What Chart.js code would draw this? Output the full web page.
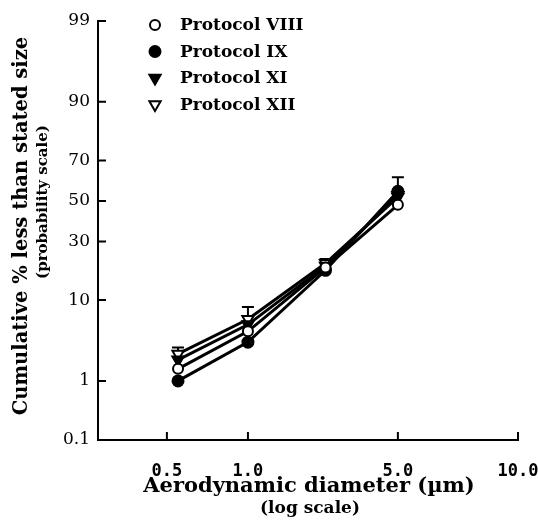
<!DOCTYPE html>
<html>
<head>
<meta charset="utf-8">
<script src="https://cdn.jsdelivr.net/npm/chart.js@4/dist/chart.umd.min.js"></script>
<style>
  html, body { margin: 0; padding: 0; background: #fff; }
  canvas { display: block; }
</style>
</head>
<body>
<canvas id="chart" width="538" height="528"></canvas>
<script>
'use strict';

// stage cut-off diameters (um)
const diameters = [0.55, 1.0, 2.3, 5.0];

// cumulative % less than stated size
const protocolVIII = [1.5, 4.6, 19.5, 48];
const protocolIX = [1.0, 3.4, 18.5, 55];
const protocolXI = [2.0, 5.5, 20, 53];
const protocolXII = [2.4, 6.3, 21, 52];

// top of the error bar at each stage
const errorTop = [2.9, 8.5, 22.7, 62];

const xTicks = [0.5, 1, 5, 10];
const xTickLabels = ['0.5', '1.0', '5.0', '10.0'];
const yTicks = [0.1, 1, 10, 30, 50, 70, 90, 99];

const xTitle = 'Aerodynamic diameter (\u00b5m)';
const xSubtitle = '(log scale)';
const yTitle = 'Cumulative % less than stated size';
const ySubtitle = '(probability scale)';

// the printed x axis is not a true log axis: tick spacing differs per decade,
// so each tick gets its own fraction of the axis length and log is used between
const xAxisFractions = [0.164, 0.357, 0.714, 1];

const black = '#000';

// inverse normal cdf (Acklam)
function probit(p) {
  const a = [-39.69683028665376, 220.9460984245205, -275.9285104469687, 138.3577518672690, -30.66479806614716, 2.506628277459239];
  const b = [-54.47609879822406, 161.5858368580409, -155.6989798598866, 66.80131188771972, -13.28068155288572];
  const c = [-0.007784894002430293, -0.3223964580411365, -2.400758277161838, -2.549732539343734, 4.374664141464968, 2.938163982698783];
  const d = [0.007784695709041462, 0.3224671290700398, 2.445134137142996, 3.754408661907416];
  const tail = q => (((((c[0] * q + c[1]) * q + c[2]) * q + c[3]) * q + c[4]) * q + c[5]) /
    ((((d[0] * q + d[1]) * q + d[2]) * q + d[3]) * q + 1);
  if (p < 0.02425) return tail(Math.sqrt(-2 * Math.log(p)));
  if (p > 1 - 0.02425) return -tail(Math.sqrt(-2 * Math.log(1 - p)));
  const q = p - 0.5, r = q * q;
  return (((((a[0] * r + a[1]) * r + a[2]) * r + a[3]) * r + a[4]) * r + a[5]) * q /
    (((((b[0] * r + b[1]) * r + b[2]) * r + b[3]) * r + b[4]) * r + 1);
}

function xFraction(v) {
  let i = 0;
  while (i < xTicks.length - 2 && v > xTicks[i + 1]) i++;
  const l0 = Math.log10(xTicks[i]), l1 = Math.log10(xTicks[i + 1]);
  return xAxisFractions[i] + (Math.log10(v) - l0) / (l1 - l0) * (xAxisFractions[i + 1] - xAxisFractions[i]);
}

function invert(fn, target, lo, hi) {
  for (let k = 0; k < 60; k++) {
    const mid = (lo + hi) / 2;
    if (fn(mid) < target) lo = mid; else hi = mid;
  }
  return (lo + hi) / 2;
}

class ProbitScale extends Chart.LinearScale {
  static id = 'probit';
  static defaults = {};
  _frac(v) {
    const lo = probit(this.min / 100), hi = probit(this.max / 100);
    return (probit(v / 100) - lo) / (hi - lo);
  }
  getPixelForValue(value) {
    if (value == null || !(value > 0)) return NaN;
    return this.getPixelForDecimal(this._frac(value));
  }
  getValueForPixel(pixel) {
    return invert(v => this._frac(v), this.getDecimalForPixel(pixel), 1e-4, 99.9999);
  }
}

class StagedLogScale extends Chart.LinearScale {
  static id = 'stagedLog';
  static defaults = {};
  getPixelForValue(value) {
    if (value == null || !(value > 0)) return NaN;
    return this.getPixelForDecimal(xFraction(value));
  }
  getValueForPixel(pixel) {
    return invert(xFraction, this.getDecimalForPixel(pixel), 0.05, 20);
  }
}

Chart.register(ProbitScale, StagedLogScale);

function series(label, values, pointStyle, fill, radius) {
  return {
    label,
    data: diameters.map((x, i) => ({ x, y: values[i] })),
    borderColor: black,
    borderWidth: 3,
    tension: 0,
    pointStyle,
    pointRotation: pointStyle === 'triangle' ? 180 : 0,
    pointRadius: radius,
    pointBackgroundColor: fill,
    pointBorderColor: black,
    pointBorderWidth: 2,
  };
}

const decorations = {
  id: 'decorations',
  beforeDatasetsDraw(chart) {
    const { ctx, scales: { x, y } } = chart;
    ctx.save();
    ctx.strokeStyle = black;
    ctx.lineWidth = 2;
    errorTop.forEach((top, i) => {
      const sets = chart.data.datasets.map(ds => ds.data[i].y);
      const px = x.getPixelForValue(diameters[i]);
      const y0 = y.getPixelForValue(Math.max(...sets));
      const y1 = y.getPixelForValue(top);
      ctx.beginPath();
      ctx.moveTo(px, y0);
      ctx.lineTo(px, y1);
      ctx.moveTo(px - 6, y1);
      ctx.lineTo(px + 6, y1);
      ctx.stroke();
    });
    ctx.restore();
  },
  afterDraw(chart) {
    const { ctx, chartArea: area, scales: { x, y } } = chart;
    ctx.save();
    ctx.strokeStyle = black;
    ctx.fillStyle = black;
    ctx.lineWidth = 2;

    // inward tick marks
    ctx.beginPath();
    yTicks.forEach(v => {
      const py = y.getPixelForValue(v);
      ctx.moveTo(area.left, py);
      ctx.lineTo(area.left + 8, py);
    });
    xTicks.forEach(v => {
      const px = x.getPixelForValue(v);
      ctx.moveTo(px, area.bottom);
      ctx.lineTo(px, area.bottom - 8);
    });
    ctx.stroke();

    // legend
    chart.data.datasets.forEach((ds, i) => {
      const lx = area.left + 57, ly = 25 + i * 26.5;
      ctx.fillStyle = ds.pointBackgroundColor;
      ctx.strokeStyle = black;
      ctx.lineWidth = 2;
      Chart.helpers.drawPoint(ctx, {
        pointStyle: ds.pointStyle, rotation: ds.pointRotation,
        radius: ds.pointRadius, borderWidth: 2,
      }, lx, ly);
      ctx.fillStyle = black;
      ctx.font = 'bold 17px "DejaVu Serif"';
      ctx.textAlign = 'left';
      ctx.textBaseline = 'middle';
      ctx.fillText(ds.label, lx + 25, ly + 1);
    });

    // axis titles
    ctx.textAlign = 'center';
    ctx.textBaseline = 'middle';
    ctx.font = 'bold 21px "DejaVu Serif"';
    ctx.fillText(xTitle, 309, 487);
    ctx.font = 'bold 17px "DejaVu Serif"';
    ctx.fillText(xSubtitle, 310, 509);

    ctx.save();
    ctx.translate(22, 226);
    ctx.rotate(-Math.PI / 2);
    ctx.font = 'bold 19.5px "DejaVu Serif"';
    ctx.fillText(yTitle, 0, 0);
    ctx.restore();
    ctx.save();
    ctx.translate(43, 202);
    ctx.rotate(-Math.PI / 2);
    ctx.font = 'bold 15px "DejaVu Serif"';
    ctx.fillText(ySubtitle, 0, 0);
    ctx.restore();

    ctx.restore();
  },
};

new Chart('chart', {
  type: 'line',
  data: {
    datasets: [
      series('Protocol VIII', protocolVIII, 'circle', '#fff', 5),
      series('Protocol IX', protocolIX, 'circle', black, 5.5),
      series('Protocol XI', protocolXI, 'triangle', black, 6.5),
      series('Protocol XII', protocolXII, 'triangle', '#fff', 6.5),
    ]
  },
  options: {
    responsive: false,
    devicePixelRatio: 1,
    animation: false,
    events: [],
    layout: { padding: 0 },
    plugins: { legend: { display: false }, tooltip: { enabled: false } },
    scales: {
      x: {
        type: 'stagedLog',
        min: 0.28,
        max: 10,
        afterBuildTicks: s => { s.ticks = xTicks.map(value => ({ value })); },
        afterFit: s => { s.height = 88; s.paddingLeft = 0; s.paddingRight = 20; },
        grid: { display: false, drawTicks: false },
        border: { display: true, color: black, width: 2 },
        ticks: {
          callback: (v, i) => xTickLabels[i],
          font: { family: 'DejaVu Sans Mono', size: 17, weight: 'bold' },
          color: black,
          padding: 21,
          maxRotation: 0,
          autoSkip: false,
        },
      },
      y: {
        type: 'probit',
        min: 0.1,
        max: 99,
        afterBuildTicks: s => { s.ticks = yTicks.map(value => ({ value })); },
        afterFit: s => { s.width = 98; s.paddingTop = 21; s.paddingBottom = 0; },
        grid: { display: false, drawTicks: false },
        border: { display: true, color: black, width: 2 },
        ticks: {
          callback: v => String(v),
          font: { family: 'DejaVu Serif', size: 17 },
          color: black,
          padding: 8,
          autoSkip: false,
        },
      },
    },
  },
  plugins: [decorations],
});
</script>
</body>
</html>
